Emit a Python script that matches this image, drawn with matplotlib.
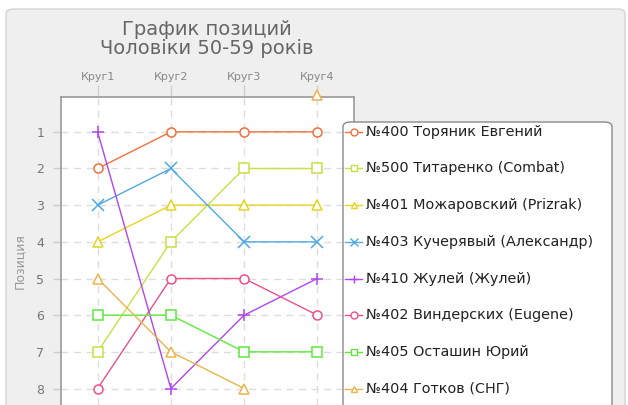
import numpy as np
import matplotlib.pyplot as plt
from matplotlib.patches import FancyBboxPatch
from matplotlib.lines import Line2D
from matplotlib.transforms import blended_transform_factory

plt.rcParams['font.family'] = ['DejaVu Sans']

rounds = ['Круг1', 'Круг2', 'Круг3', 'Круг4']

names = ['№400 Торяник Евгений', '№500 Титаренко (Combat)', '№401 Можаровский (Prizrak)',
         '№403 Кучерявый (Александр)', '№410 Жулей (Жулей)', '№402 Виндерских (Eugene)',
         '№405 Осташин Юрий', '№404 Готков (СНГ)']

toryanik = [2, 1, 1, 1]
titarenko = [7, 4, 2, 2]
mozharovsky = [4, 3, 3, 3]
kucheryavy = [3, 2, 4, 4]
zhuley = [1, 8, 6, 5]
vindersky = [8, 5, 5, 6]
ostashin = [6, 6, 7, 7]
gotkov = [5, 7, 8, 0]   # 0 = no position in Круг4

series = [toryanik, titarenko, mozharovsky, kucheryavy, zhuley, vindersky, ostashin, gotkov]
colors = ['#f2703e', '#c9e044', '#e6d41e', '#4ea9e6', '#b046ee', '#ee5088', '#5ee83c', '#ebb44c']
markers = ['o', 's', '^', 'x', '+', 'o', 's', '^']

fig = plt.figure(figsize=(6.28, 4.05), dpi=100)
fig.patch.set_facecolor('white')

# grey rounded panel behind the chart
panel = FancyBboxPatch((6 / 628, -0.1), 619 / 628, 0.1 + 396 / 405,
                       boxstyle='round,pad=0,rounding_size=0.012',
                       transform=fig.transFigure, facecolor='#efefef',
                       edgecolor='#d4d4d4', linewidth=1.0, zorder=-10)
fig.patches.append(panel)

ax = fig.add_axes([61 / 628, 0, 293 / 628, 308 / 405])
ax.set_facecolor('white')

x = np.arange(len(rounds))
for vals, c, m in zip(series, colors, markers):
    v = np.array(vals, dtype=float)
    line_v = np.where(v > 0, v, np.nan)
    ms = 8 if m in ('x', '+') else 6.5
    ax.plot(x, line_v, color=c, lw=1.0, zorder=3,
            marker=m, markersize=ms,
            markerfacecolor='white', markeredgecolor=c, markeredgewidth=1.1)
    # lone marker for a round without a line to it
    lone = v == 0
    if lone.any():
        ax.plot(x[lone], v[lone], linestyle='none', marker=m, markersize=ms,
                markerfacecolor='white', markeredgecolor=c, markeredgewidth=1.1,
                zorder=4, clip_on=False)

ax.set_xlim(-0.5, 3.5)
ax.set_ylim(8.45, 0.05)
ax.set_xticks(x)
ax.set_xticklabels(rounds)
ax.xaxis.tick_top()
ax.set_yticks(range(1, 9))
ax.tick_params(axis='x', colors='#d0d0d0', labelcolor='#888888', labelsize=8,
               length=9, width=1, pad=2)
ax.tick_params(axis='y', colors='#cccccc', labelcolor='#777777', labelsize=9,
               length=6, width=1, pad=6)
ax.grid(True, color='#dddddd', linestyle=(0, (5, 4)), linewidth=1, zorder=0)
for side in ['left', 'top', 'right']:
    ax.spines[side].set_color('#9a9a9a')
    ax.spines[side].set_linewidth(1.2)
ax.spines['bottom'].set_visible(False)
ax.set_ylabel('Позиция', color='#999999', fontsize=9)
ax.yaxis.set_label_coords(-(61 - 26) / 293, 1 - (261 - 97) / 308)

fig.text(207 / 628, 1 - 39 / 405, 'График позиций\nЧоловіки 50-59 років',
         ha='center', va='center', fontsize=14, color='#666666', linespacing=1.02)

# legend box, rows lined up with the positions
box = FancyBboxPatch((343 / 628, -0.1), 269 / 628, 0.1 + (405 - 122) / 405,
                     boxstyle='round,pad=0,rounding_size=0.012',
                     transform=fig.transFigure, facecolor='white',
                     edgecolor='#8a8a8a', linewidth=1.0, zorder=5)
fig.patches.append(box)
tr = blended_transform_factory(fig.transFigure, ax.transData)
for i, (name, c, m) in enumerate(zip(names, colors, markers)):
    row = i + 1
    fig.lines.append(Line2D([345 / 628, 362 / 628], [row, row], transform=tr,
                            color=c, lw=1.0, zorder=6))
    fig.lines.append(Line2D([353.5 / 628], [row], transform=tr, color=c,
                            marker=m, markersize=6 if m in ('x', '+') else 5,
                            markerfacecolor='white', markeredgecolor=c,
                            markeredgewidth=1.0, zorder=7))
    fig.text(366 / 628, row, name, transform=tr, ha='left', va='center',
             fontsize=10.4, color='#222222', zorder=7)

fig.savefig('out.png', dpi=100)
